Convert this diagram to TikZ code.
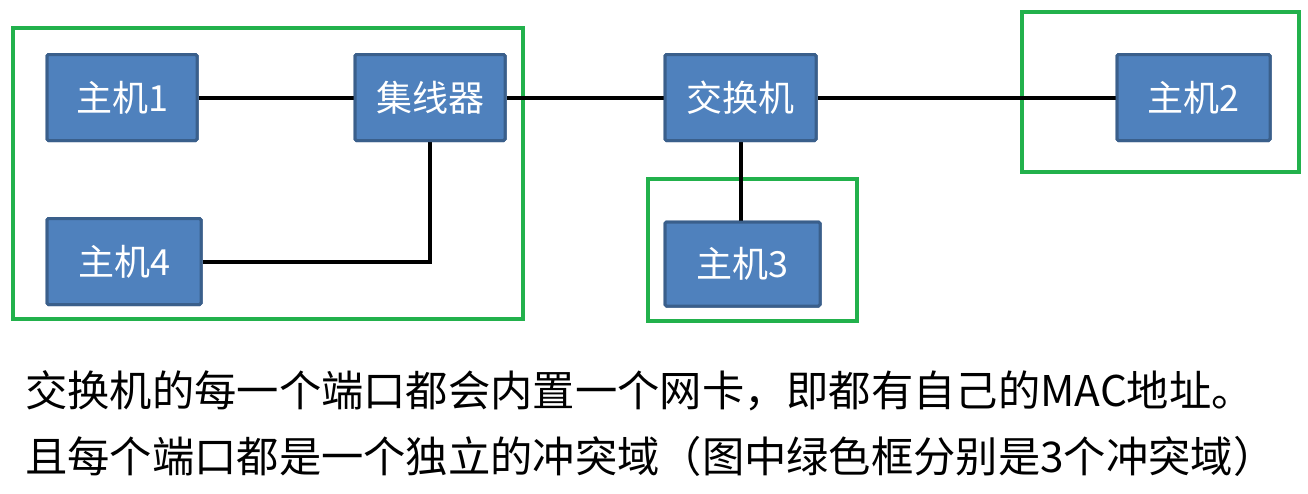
\documentclass[tikz,border=0pt]{standalone}
\usepackage{fontspec}
\setmainfont{Noto Sans CJK SC}
\newfontfamily\cjk{Noto Sans CJK SC}
\definecolor{boxfill}{HTML}{4F81BD}
\definecolor{boxline}{HTML}{3A5F8B}
\definecolor{grn}{HTML}{22B14C}
\definecolor{shd}{HTML}{B8B8B8}
\begin{document}
\begin{tikzpicture}[x=1pt,y=-1pt,
  dev/.style={draw=boxline,line width=3pt,fill=boxfill,rounded corners=1.5pt,
    text=white,font=\fontsize{36}{42}\selectfont\cjk,inner sep=0pt,
    minimum height=86pt},
  link/.style={line width=4pt,black},
  linkshadow/.style={line width=4pt,shd,opacity=0.5},
  zone/.style={draw=grn,line width=3.5pt},
  caption/.style={font=\fontsize{42.3}{50}\selectfont\cjk,anchor=base west,inner sep=0pt}]
\useasboundingbox (0,0) rectangle (1308,493);
% collision domains
\draw[zone] (13,28) rectangle (523,319);
\draw[zone] (648,179) rectangle (857,321);
\draw[zone] (1022,12) rectangle (1299,172);
% devices
\node[dev,minimum width=150pt] (h1) at (122,97.5) {主机1};
\node[dev,minimum width=150pt] (hub) at (430,97.5) {集线器};
\node[dev,minimum width=154pt] (h4) at (124,261.5) {主机4};
\node[dev,minimum width=151pt] (sw) at (740.5,97.5) {交换机};
\node[dev,minimum width=155pt,minimum height=84pt] (h3) at (742.5,264) {主机3};
\node[dev,minimum width=153pt] (h2) at (1193.5,97.5) {主机2};
% shadows of links
\begin{scope}[shift={(2,3)}]
\draw[linkshadow] (h1.east) -- (hub.west);
\draw[linkshadow] (hub.east) -- (sw.west);
\draw[linkshadow] (sw.east) -- (h2.west);
\draw[linkshadow] (hub.south) |- (h4.east);
\draw[linkshadow] (sw.south) -- (sw.south |- h3.north);
\end{scope}
% links
\draw[link] (h1.east) -- (hub.west);
\draw[link] (hub.east) -- (sw.west);
\draw[link] (sw.east) -- (h2.west);
\draw[link] (hub.south) |- (h4.east);
\draw[link] (sw.south) -- (sw.south |- h3.north);
% redraw boxes over link ends
\node[dev,minimum width=150pt] at (h1) {主机1};
\node[dev,minimum width=150pt] at (hub) {集线器};
\node[dev,minimum width=154pt] at (h4) {主机4};
\node[dev,minimum width=151pt] at (sw) {交换机};
\node[dev,minimum width=155pt,minimum height=84pt] at (h3) {主机3};
\node[dev,minimum width=153pt] at (h2) {主机2};
% caption
\node[caption] (t1) at (25,406) {交换机的每一个端口都会内置一个网卡，即都有自己的MAC地址。};
\node[caption] (t2) at (25,472) {且每个端口都是一个独立的冲突域（图中绿色框分别是3个冲突域）};
\end{tikzpicture}
\end{document}
